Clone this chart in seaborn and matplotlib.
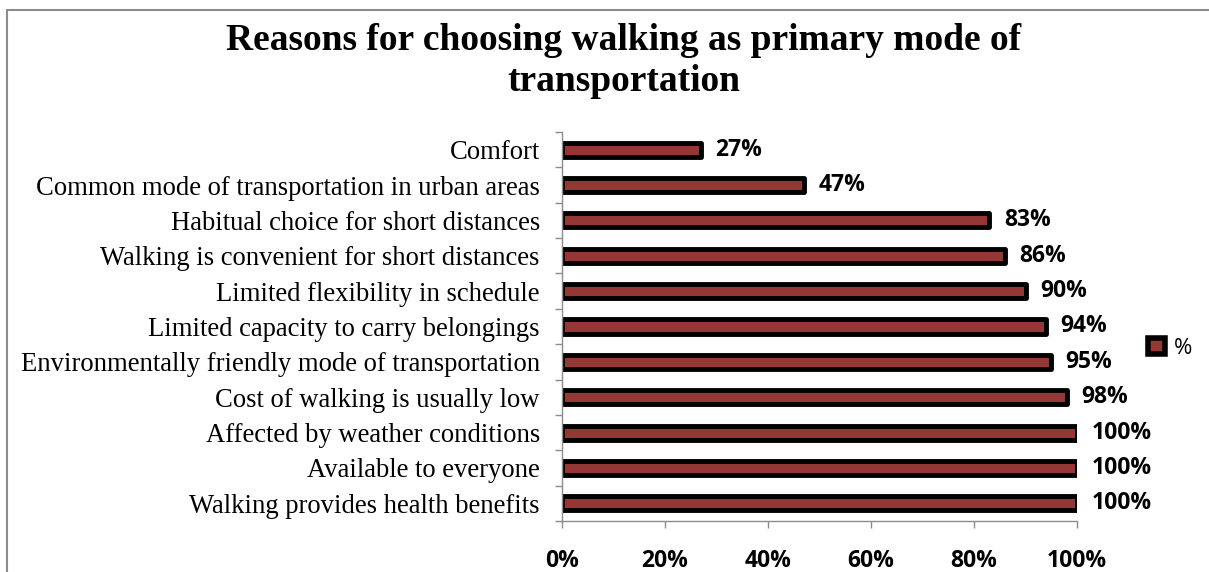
import matplotlib
matplotlib.use("Agg")
import matplotlib.pyplot as plt
from matplotlib.lines import Line2D
from matplotlib.patches import Patch
from matplotlib.ticker import FuncFormatter
import pandas as pd
import seaborn as sns


TITLE = "Reasons for choosing walking as primary mode of\ntransportation"
REASONS = [
    "Comfort",
    "Common mode of transportation in urban areas",
    "Habitual choice for short distances",
    "Walking is convenient for short distances",
    "Limited flexibility in schedule",
    "Limited capacity to carry belongings",
    "Environmentally friendly mode of transportation",
    "Cost of walking is usually low",
    "Affected by weather conditions",
    "Available to everyone",
    "Walking provides health benefits",
]
SHARES = [0.27, 0.47, 0.83, 0.86, 0.90, 0.94, 0.95, 0.98, 1.00, 1.00, 1.00]
X_TICKS = [0, 0.2, 0.4, 0.6, 0.8, 1.0]
SERIES = "%"

BAR_RED = "#953735"
SPINE_GREY = "#8c8c8c"
SERIF = "Liberation Serif"
SANS = "Open Sans"
W, H = 1209, 572


def main():
    sns.set_theme(style="white")
    plt.rcParams["text.color"] = "black"
    plt.rcParams["xtick.color"] = "black"
    plt.rcParams["ytick.color"] = "black"
    df = pd.DataFrame({"reason": REASONS, "share": SHARES})

    fig = plt.figure(figsize=(W / 100, H / 100), dpi=100)
    ax = fig.add_axes([562 / W, 1 - 521 / H, 515 / W, 389 / H])

    sns.barplot(
        data=df,
        x="share",
        y="reason",
        order=REASONS,
        color=BAR_RED,
        saturation=1,
        edgecolor="black",
        linewidth=3.5,
        width=0.4,
        ax=ax,
    )
    for bar in ax.patches:
        bar.set_joinstyle("round")

    for bar, value in zip(ax.patches, SHARES):
        ax.text(
            bar.get_width() + 0.028,
            bar.get_y() + bar.get_height() / 2,
            f"{value:.0%}",
            va="center",
            ha="left",
            fontsize=16.5,
            fontweight="bold",
            family=SANS,
            color="black",
        )

    ax.set_xlim(0, 1.0)
    ax.set_ylim(len(REASONS) - 0.5, -0.5)
    ax.set_xticks(X_TICKS)
    ax.xaxis.set_major_formatter(FuncFormatter(lambda v, _p: f"{v:.0%}"))
    ax.set_yticks([i - 0.5 for i in range(len(REASONS) + 1)])
    ax.set_yticklabels([])
    ax.set_yticks(range(len(REASONS)), minor=True)
    ax.set_yticklabels(REASONS, minor=True, family=SERIF, fontsize=19.2)
    ax.tick_params(axis="y", which="minor", left=False, length=0, pad=16)
    ax.tick_params(axis="y", which="major", left=True, length=5, width=1,
                   color=SPINE_GREY, direction="out")
    ax.tick_params(axis="x", bottom=True, length=5, width=1, color=SPINE_GREY,
                   direction="out", pad=15, labelcolor="black")
    for label in ax.get_xticklabels():
        label.set_fontweight("bold")
        label.set_family(SANS)
        label.set_fontsize(16.5)

    sns.despine(ax=ax, top=True, right=True)
    for side in ("left", "bottom"):
        ax.spines[side].set_color(SPINE_GREY)
        ax.spines[side].set_linewidth(1)
    ax.set_xlabel("")
    ax.set_ylabel("")
    ax.grid(False)

    fig.text(624 / W, 1 - 61 / H, TITLE, ha="center", va="center", family=SERIF,
             fontsize=27, fontweight="bold", linespacing=1.22, color="black")

    handle = Patch(facecolor=BAR_RED, edgecolor="black", linewidth=4)
    fig.legend(
        [handle], [SERIES],
        loc="center left",
        bbox_to_anchor=(1128 / W, 1 - 348 / H),
        frameon=False,
        handlelength=0.75,
        handleheight=0.75,
        handletextpad=0.4,
        prop={"family": SANS, "size": 16},
    )

    # grey frame along the top and left edges
    frame_x = 7 / W
    frame_y = 1 - 10 / H
    fig.lines.append(Line2D([frame_x, 1.0], [frame_y, frame_y], transform=fig.transFigure,
                            color=SPINE_GREY, linewidth=1.5))
    fig.lines.append(Line2D([frame_x, frame_x], [0.0, frame_y], transform=fig.transFigure,
                            color=SPINE_GREY, linewidth=1.5))

    fig.savefig("out.png", dpi=100)
    plt.close(fig)


if __name__ == "__main__":
    main()
